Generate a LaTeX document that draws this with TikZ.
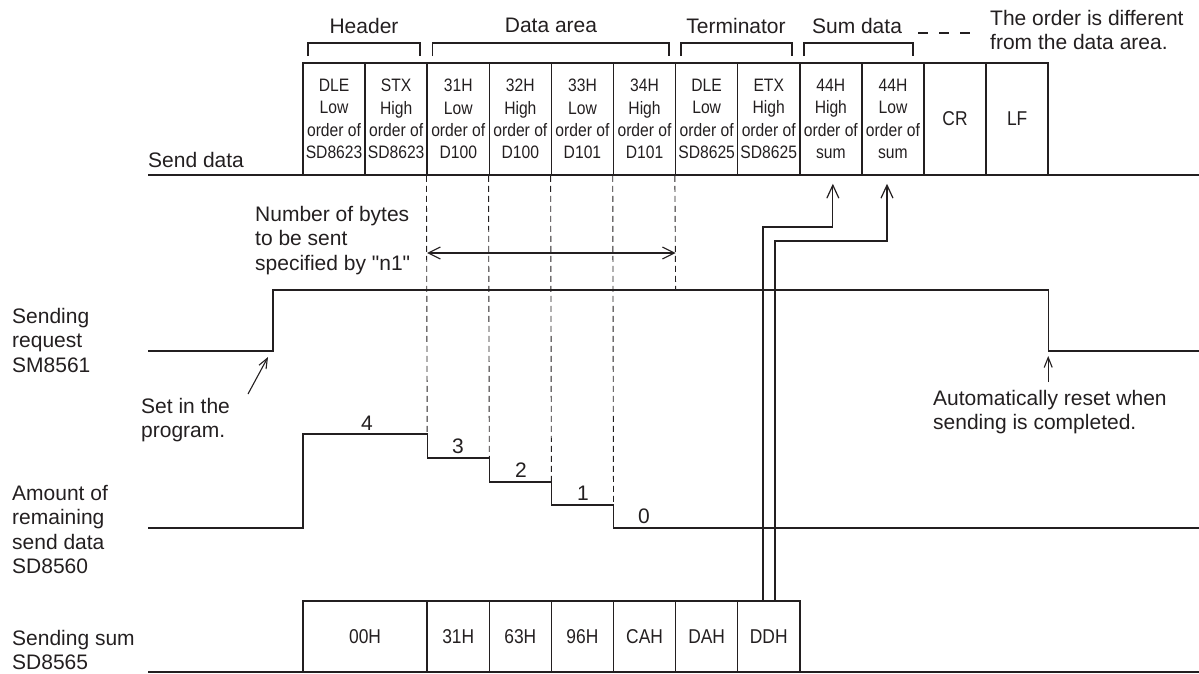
\documentclass[tikz,border=0pt]{standalone}
\usepackage{fontspec}
\setmainfont{Liberation Sans}[Ligatures=TeXOff]
\newfontfamily\cellfont[FakeStretch=0.87]{Liberation Sans}
\usetikzlibrary{arrows.meta}
\definecolor{ink}{RGB}{35,31,32}
\begin{document}
\begin{tikzpicture}[x=1pt,y=-1pt,
  every node/.style={text=ink},
  font=\fontsize{21}{24.5}\selectfont,
  cell/.style={draw=ink, line width=1.5pt, minimum width=62.1pt, minimum height=112pt, inner sep=0pt, align=center, font=\cellfont\fontsize{18}{22.3}\selectfont},
  sumcell/.style={cell, minimum height=71pt, font=\cellfont\fontsize{20}{24}\selectfont},
  lbl/.style={inner sep=0pt, align=left, anchor=north west},
  num/.style={inner sep=0pt},
  guide/.style={draw=ink, dash pattern=on 6pt off 4pt, line width=0.9pt},
  sig/.style={draw=ink, line width=1.4pt},
  brk/.style={draw=ink, line width=1.3pt},
  arr/.style={draw=ink, line width=1.2pt, -{Straight Barb[length=13pt,width=12pt]}},
  darr/.style={draw=ink, line width=1.1pt, {Straight Barb[length=12pt,width=12pt]}-{Straight Barb[length=12pt,width=12pt]}},
  sarr/.style={draw=ink, line width=1.1pt, -{Straight Barb[length=10pt,width=8pt]}}
]
\useasboundingbox (0,0) rectangle (1199,673);

% ---------- Send data row ----------
\node[cell] (c0) at (334.05,119) {DLE\\Low\\order of\\SD8623};
\node[cell] (c1) at (396.15,119) {STX\\High\\order of\\SD8623};
\node[cell] (c2) at (458.25,119) {31H\\Low\\order of\\D100};
\node[cell] (c3) at (520.35,119) {32H\\High\\order of\\D100};
\node[cell] (c4) at (582.45,119) {33H\\Low\\order of\\D101};
\node[cell] (c5) at (644.55,119) {34H\\High\\order of\\D101};
\node[cell] (c6) at (706.65,119) {DLE\\Low\\order of\\SD8625};
\node[cell] (c7) at (768.75,119) {ETX\\High\\order of\\SD8625};
\node[cell] (c8) at (830.85,119) {44H\\High\\order of\\sum};
\node[cell] (c9) at (892.95,119) {44H\\Low\\order of\\sum};
\node[cell, font=\cellfont\fontsize{20}{24}\selectfont] (c10) at (955.05,119) {CR};
\node[cell, font=\cellfont\fontsize{20}{24}\selectfont] (c11) at (1017.15,119) {LF};
\draw[draw=ink, line width=1.8pt] (148,175) -- (1199,175);
\node[lbl] (sendlbl) at (148,152) {Send data};

% ---------- headings and brackets ----------
\node[num] (h1) at (364,25.5) {Header};
\node[num] (h2) at (551,25.5) {Data area};
\node[num] (h3) at (736,25.5) {Terminator};
\node[num] (h4) at (857,25.5) {Sum data};
\draw[brk] (308,56) -- (308,43) -- (420,43) -- (420,56);
\draw[brk] (432.7,56) -- (432.7,43) -- (669,43) -- (669,56);
\draw[brk] (681,56) -- (681,43) -- (792,43) -- (792,56);
\draw[brk] (804,56) -- (804,43) -- (913,43) -- (913,56);
\draw[draw=ink, line width=1.5pt, dash pattern=on 10pt off 11pt] (918,33) -- (981,33);
\node[lbl] (note) at (990,10) {The order is different\\from the data area.};

% ---------- Sending request ----------
\node[lbl] (reqlbl) at (12,308) {Sending\\request\\SM8561};
\draw[sig] (148,351) -- (273,351) -- (273,290) -- (1048.2,290) -- (1048.2,351) -- (1199,351);
\node[lbl] (setlbl) at (141,398) {Set in the\\program.};
\coordinate (sp1) at (248,394);
\coordinate (sp2) at (268,357);
\draw[sarr] (sp1) -- (sp2);
\node[lbl] (autolbl) at (933,390) {Automatically reset when\\sending is completed.};
\coordinate (ar1) at (1048.2,382);
\coordinate (ar2) at (1048.2,356);
\draw[sarr] (ar1) -- (ar2);

% ---------- n1 annotation ----------
\node[lbl] (n1lbl) at (255,206) {Number of bytes\\to be sent\\specified by "n1"};
\coordinate (n1a) at (427.2,253);
\coordinate (n1b) at (675.6,253);
\draw[darr] (n1a) -- (n1b);

% ---------- Amount of remaining send data ----------
\node[lbl] (amtlbl) at (12,485) {Amount of\\remaining\\send data\\SD8560};
\coordinate (s4) at (427.2,434);
\coordinate (s3) at (489.3,458);
\coordinate (s2) at (551.4,482);
\coordinate (s1) at (613.5,505);
\coordinate (s0) at (675.6,290);
\draw[sig] (148,528) -- (303,528) -- (303,434) -- (s4) -- (427.2,458) -- (s3) -- (489.3,482) -- (s2)
  -- (551.4,505) -- (s1) -- (613.5,528) -- (1199,528);
\node[num] (v4) at (367,423) {4};
\node[num] (v3) at (458,446) {3};
\node[num] (v2) at (521,470) {2};
\node[num] (v1) at (583,493) {1};
\node[num] (v0) at (644,516) {0};

% dashed guides
\draw[guide] (c2.south west) -- (s4);
\draw[guide] (c3.south west) -- (s3);
\draw[guide] (c4.south west) -- (s2);
\draw[guide] (c5.south west) -- (s1);
\draw[guide] (c6.south west) -- (s0);

% ---------- Sending sum ----------
\node[lbl] (sumlbl) at (12,630) {Sending sum\\SD8565};
\node[sumcell, minimum width=124.2pt] (t0) at (365.1,636.5) {00H};
\node[sumcell] (t1) at (458.25,636.5) {31H};
\node[sumcell] (t2) at (520.35,636.5) {63H};
\node[sumcell] (t3) at (582.45,636.5) {96H};
\node[sumcell] (t4) at (644.55,636.5) {CAH};
\node[sumcell] (t5) at (706.65,636.5) {DAH};
\node[sumcell] (t6) at (768.75,636.5) {DDH};
\draw[draw=ink, line width=1.5pt] (148,671.8) -- (1199,671.8);

% sum transfer arrows
\draw[arr] ([xshift=-5.75pt]t6.north) |- (832.85,227) -- ([xshift=2pt,yshift=-8pt]c8.south);
\draw[arr] ([xshift=6.25pt]t6.north) |- (887,241) -- ([xshift=-5.95pt,yshift=-8pt]c9.south);
\end{tikzpicture}
\end{document}
